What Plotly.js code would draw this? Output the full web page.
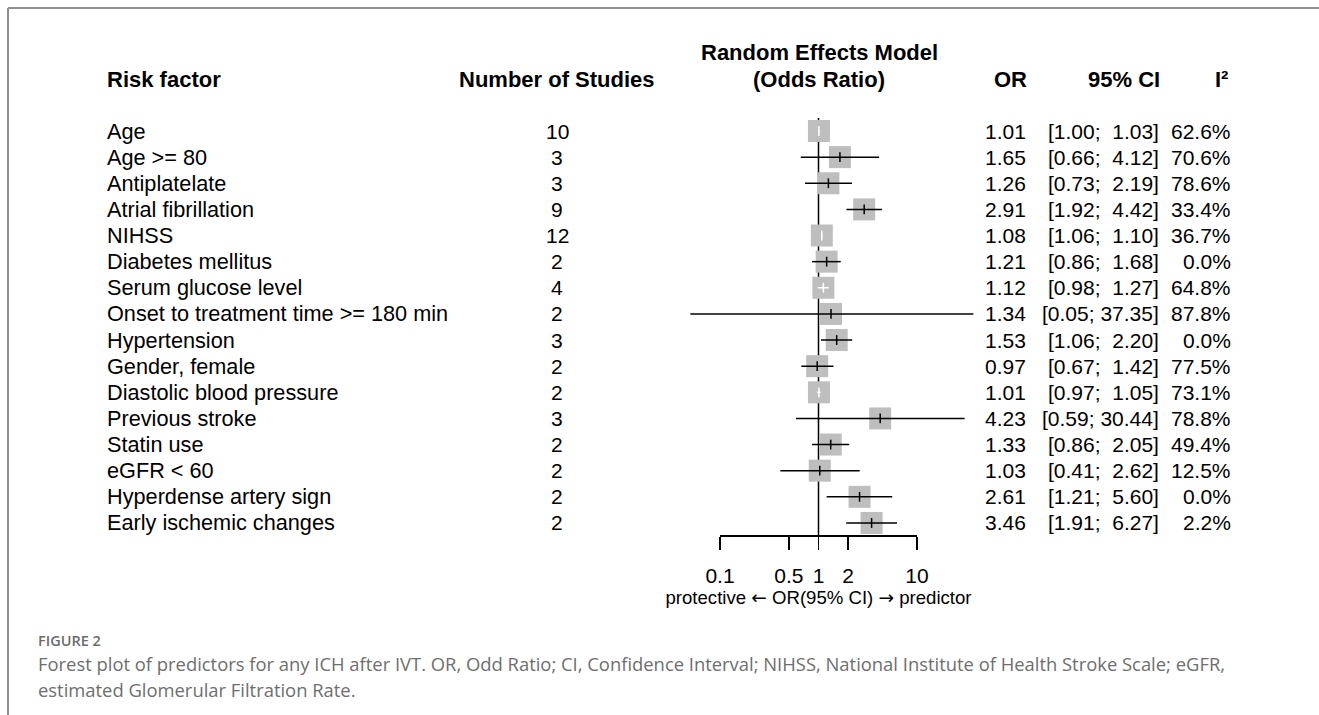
<!DOCTYPE html>
<html>
<head>
<meta charset="utf-8">
<script src="https://cdn.plot.ly/plotly-3.0.1.min.js"></script>
<style>html,body{margin:0;padding:0;background:#fff;}#plot{width:1319px;height:715px;}</style>
</head>
<body>
<div id="plot"></div>
<script>
// ---- data ----
const factors = ["Age", "Age >= 80", "Antiplatelate", "Atrial fibrillation", "NIHSS", "Diabetes mellitus",
  "Serum glucose level", "Onset to treatment time >= 180 min", "Hypertension", "Gender, female",
  "Diastolic blood pressure", "Previous stroke", "Statin use", "eGFR < 60", "Hyperdense artery sign",
  "Early ischemic changes"];
const nStudies = [10, 3, 3, 9, 12, 2, 4, 2, 3, 2, 2, 3, 2, 2, 2, 2];
const orVals = [1.01, 1.65, 1.26, 2.91, 1.08, 1.21, 1.12, 1.34, 1.53, 0.97, 1.01, 4.23, 1.33, 1.03, 2.61, 3.46];
const ciLo = [1.00, 0.66, 0.73, 1.92, 1.06, 0.86, 0.98, 0.05, 1.06, 0.67, 0.97, 0.59, 0.86, 0.41, 1.21, 1.91];
const ciHi = [1.03, 4.12, 2.19, 4.42, 1.10, 1.68, 1.27, 37.35, 2.20, 1.42, 1.05, 30.44, 2.05, 2.62, 5.60, 6.27];
const i2 = [62.6, 70.6, 78.6, 33.4, 36.7, 0.0, 64.8, 87.8, 0.0, 77.5, 73.1, 78.8, 49.4, 12.5, 0.0, 2.2];
const tickVals = [0.1, 0.5, 1, 2, 10];
const tickLabels = ["0.1", "0.5", "1", "2", "10"];
const headers = ["Risk factor", "Number of Studies", "Random Effects Model", "(Odds Ratio)", "OR", "95% CI", "I\u00b2"];
const axisTitleParts = ["protective", "\u2190", "OR(95% CI)", "\u2192", "predictor"];
const captionLabel = "FIGURE 2";
const captionLines = ["Forest plot of predictors for any ICH after IVT. OR, Odd Ratio; CI, Confidence Interval; NIHSS, National Institute of Health Stroke Scale; eGFR,",
  "estimated Glomerular Filtration Rate."];

// ---- layout helpers ----
const W = 1319, H = 715;
const px = v => v / W;
const py = v => 1 - v / H;
const rows = factors.map((_, i) => i + 1);
const rowTop = 131, rowStep = 26.13;
const yLo = 1 - rowTop / rowStep, yHi = 1 + (H - rowTop) / rowStep;
const pxPerDec = 98.5, x01 = 720;
const xRange = [-1 - x01 / pxPerDec, -1 + (W - x01) / pxPerDec];
const axisY = 535;
const axisRow = 1 + (axisY - rowTop) / rowStep;
const sqSize = 22;
const halfSqDec = sqSize / 2 / pxPerDec;

const font = "Liberation Sans, Arial, sans-serif";
const fmt2 = v => v.toFixed(2);
const nb = "\u00a0";
const maxHi = Math.max(...ciHi.map(v => fmt2(v).length));
const ciText = ciLo.map((lo, i) => {
  const h = fmt2(ciHi[i]);
  return "[" + fmt2(lo) + ";" + nb.repeat(1 + maxHi - h.length) + h + "]";
});
const arrowSpan = a => "<span style=\"font-family:'DejaVu Sans'\">" + a + "</span>";
const axisTitle = [axisTitleParts[0], arrowSpan(axisTitleParts[1]), axisTitleParts[2], arrowSpan(axisTitleParts[3]), axisTitleParts[4]].join(" ");

// CI fully within square -> drawn white
const inside = orVals.map((o, i) =>
  Math.log10(o) - Math.log10(ciLo[i]) < halfSqDec && Math.log10(ciHi[i]) - Math.log10(o) < halfSqDec);
const pick = (arr, cond) => arr.filter((_, i) => inside[i] === cond);

function ciTrace(cond, color) {
  const o = pick(orVals, cond), lo = pick(ciLo, cond), hi = pick(ciHi, cond), r = pick(rows, cond);
  return {
    type: "scatter", mode: "markers", x: o, y: r, xaxis: "x", yaxis: "y",
    marker: {symbol: "line-ns", size: 7, line: {color: color, width: 1.5}, color: color},
    error_x: {type: "data", symmetric: false, array: hi.map((h, i) => h - o[i]),
      arrayminus: lo.map((l, i) => o[i] - l), color: color, thickness: 1.5, width: 0},
    hoverinfo: "skip", showlegend: false, cliponaxis: false
  };
}

const traces = [
  {type: "scatter", mode: "lines", x: [1, 1], y: [0.5, axisRow], xaxis: "x", yaxis: "y",
   line: {color: "#000", width: 1.5}, hoverinfo: "skip", showlegend: false},
  {type: "scatter", mode: "markers", x: orVals, y: rows, xaxis: "x", yaxis: "y",
   marker: {symbol: "square", size: sqSize, color: "#bebebe", line: {width: 0}},
   hoverinfo: "skip", showlegend: false},
  ciTrace(false, "#000"),
  ciTrace(true, "#fff"),
  // invisible trace on the visible OR axis
  {type: "scatter", mode: "markers", x: tickVals, y: tickVals.map(() => axisRow), xaxis: "x2", yaxis: "y",
   marker: {opacity: 0}, hoverinfo: "skip", showlegend: false}
];

const ann = [];
const nameSize = 21.7, numSize = 21;
factors.forEach((f, i) => {
  const y = rows[i];
  ann.push({text: f, x: px(105), y: y, xref: "paper", yref: "y", xanchor: "left", yanchor: "middle", showarrow: false, font: {family: font, size: nameSize, color: "#000"}});
  ann.push({text: String(nStudies[i]), x: px(557), y: y, xref: "paper", yref: "y", xanchor: "center", yanchor: "middle", showarrow: false, font: {family: font, size: numSize, color: "#000"}});
  ann.push({text: fmt2(orVals[i]), x: px(1028), y: y, xref: "paper", yref: "y", xanchor: "right", yanchor: "middle", showarrow: false, font: {family: font, size: numSize, color: "#000"}});
  ann.push({text: ciText[i], x: px(1161), y: y, xref: "paper", yref: "y", xanchor: "right", yanchor: "middle", showarrow: false, font: {family: font, size: numSize, color: "#000"}});
  ann.push({text: i2[i].toFixed(1) + "%", x: px(1233), y: y, xref: "paper", yref: "y", xanchor: "right", yanchor: "middle", showarrow: false, font: {family: font, size: numSize, color: "#000"}});
});
const hdrFont = {family: font, size: 22, color: "#000"};
const hdr = (t, x, y, anchor) => ann.push({text: "<b>" + t + "</b>", x: px(x), y: py(y), xref: "paper", yref: "paper", xanchor: anchor, yanchor: "middle", showarrow: false, font: hdrFont});
hdr(headers[0], 105, 79, "left");
hdr(headers[1], 557, 79, "center");
hdr(headers[2], 819, 52, "center");
hdr(headers[3], 819, 79, "center");
hdr(headers[4], 1010, 79, "center");
hdr(headers[5], 1124, 79, "center");
hdr(headers[6], 1221, 79, "center");

const capFont = "Open Sans, Lato, sans-serif";
ann.push({text: captionLabel, x: px(36), y: py(640), xref: "paper", yref: "paper", xanchor: "left", yanchor: "middle", showarrow: false, font: {family: capFont, size: 14.5, color: "#6b6b6b", weight: 600}});
captionLines.forEach((t, i) => ann.push({text: t, x: px(36), y: py(663 + i * 26), xref: "paper", yref: "paper", xanchor: "left", yanchor: "middle", showarrow: false, font: {family: capFont, size: 18.4, color: "#6e6e6e"}}));

const layout = {
  width: W, height: H, autosize: false,
  margin: {l: 0, r: 0, t: 0, b: 0, pad: 0},
  paper_bgcolor: "#fff", plot_bgcolor: "rgba(0,0,0,0)",
  showlegend: false,
  xaxis: {type: "log", range: xRange, visible: false, fixedrange: true, domain: [0, 1]},
  xaxis2: {type: "log", range: [-1, 1], domain: [px(x01), px(x01 + 2 * pxPerDec)], anchor: "free", position: py(axisY),
    side: "bottom", showline: true, linecolor: "#000", linewidth: 1.5,
    ticks: "outside", ticklen: 13, tickwidth: 1.5, tickcolor: "#000",
    tickmode: "array", tickvals: tickVals, ticktext: tickLabels, ticklabelstandoff: 8,
    tickfont: {family: font, size: 21, color: "#000"}, showgrid: false, zeroline: false, fixedrange: true,
    title: {text: axisTitle, font: {family: font, size: 18.6, color: "#000"}, standoff: 0}},
  yaxis: {range: [yHi, yLo], visible: false, fixedrange: true},
  annotations: ann,
  shapes: [
    {type: "line", xref: "paper", yref: "paper", x0: px(8), x1: 1, y0: py(8), y1: py(8), line: {color: "#8f8f8f", width: 2}},
    {type: "line", xref: "paper", yref: "paper", x0: px(8), x1: px(8), y0: py(8), y1: 0, line: {color: "#8f8f8f", width: 2}}
  ]
};

Plotly.newPlot("plot", traces, layout, {staticPlot: true, displayModeBar: false});
</script>
</body>
</html>
